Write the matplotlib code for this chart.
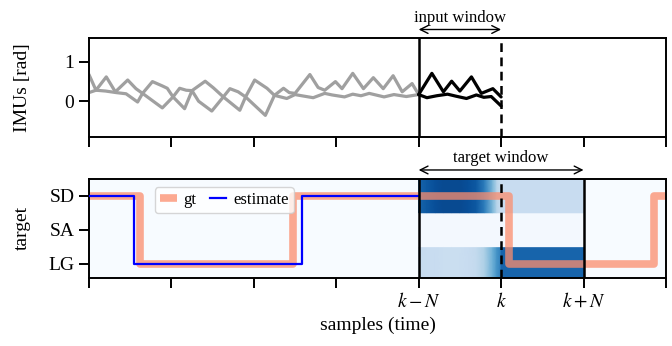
import numpy as np
import matplotlib
matplotlib.use("Agg")
from matplotlib import pyplot as plt

plt.rcParams["font.family"] = ["Liberation Serif", "DejaVu Serif"]
plt.rcParams["mathtext.fontset"] = "stix"
plt.rcParams["font.size"] = 14

# IMU signals (upper / lower trace)
imu_up_t = [0.0, 0.085, 0.21, 0.32, 0.47, 0.57, 0.65, 0.77, 0.89, 0.95, 1.02, 1.1, 1.18, 1.25,
            1.41, 1.51, 1.63, 1.71, 1.81, 1.9, 2.01, 2.16, 2.25, 2.36, 2.43, 2.5, 2.68, 2.78,
            2.86, 2.99, 3.07, 3.2, 3.33, 3.45, 3.57, 3.69, 3.8, 3.92, 4.0,
            4.16, 4.3, 4.4, 4.5, 4.64, 4.76, 4.9, 5.0]
imu_up = [0.68, 0.28, 0.62, 0.24, 0.54, 0.32, 0.2, 0.50, 0.39, 0.33, 0.11, 0.33, 0.28, 0.27,
          0.51, 0.34, 0.11, 0.32, 0.24, 0.11, 0.54, 0.33, 0.15, 0.33, 0.22, 0.2, 0.68, 0.35,
          0.28, 0.5, 0.32, 0.71, 0.32, 0.6, 0.32, 0.65, 0.24, 0.45, 0.17,
          0.71, 0.24, 0.51, 0.26, 0.62, 0.2, 0.32, 0.11]
imu_lo_t = [0.0, 0.085, 0.2, 0.33, 0.45, 0.59, 0.65, 0.89, 1.02, 1.16, 1.25, 1.33, 1.49, 1.63,
            1.83, 1.9, 2.14, 2.25, 2.4, 2.5, 2.58, 2.72, 2.86, 2.95, 3.1, 3.2, 3.3, 3.4, 3.58,
            3.7, 3.85, 4.0,
            4.1, 4.22, 4.35, 4.45, 4.58, 4.7, 4.79, 4.88, 5.0]
imu_lo = [0.22, 0.28, 0.26, 0.22, 0.19, -0.02, 0.2, -0.17, 0.11, -0.19, 0.27, 0.0, -0.25, 0.11,
          -0.23, 0.11, -0.36, 0.15, 0.07, 0.17, 0.14, 0.09, 0.2, 0.16, 0.11, 0.18, 0.14, 0.2, 0.11,
          0.17, 0.12, 0.17,
          0.09, 0.14, 0.18, 0.13, 0.07, 0.16, 0.1, 0.12, -0.12]

# classes
classes = ["LG", "SA", "SD"]

# ground truth and estimate (step signals)
gt_t = [0.0, 0.62, 2.47, 5.09, 6.85, 7.0]
gt_val = [2, 0, 2, 0, 2, 2]
est_t = [0.0, 0.55, 2.59, 4.0]
est_val = [2, 0, 2, 2]

# predicted class probabilities in target window
past_t = [4.0, 4.1, 4.2, 4.3, 4.4, 4.5, 4.6, 4.7, 4.8, 4.9, 4.95, 5.0]
past_lg = [0.25, 0.24, 0.24, 0.23, 0.23, 0.23, 0.24, 0.26, 0.33, 0.5, 0.62, 0.7]
past_sa = [0.02] * 12
past_sd = [0.8, 0.84, 0.88, 0.9, 0.9, 0.9, 0.88, 0.84, 0.7, 0.45, 0.3, 0.22]
fut_t = [5.0, 6.0]
fut_lg = [0.8, 0.8]
fut_sa = [0.02, 0.02]
fut_sd = [0.24, 0.24]

k = 4  # start of input window
n = 1

fig = plt.figure(figsize=(6.72, 3.46), dpi=100)
ax1 = fig.add_axes([0.1324, 0.603, 0.8586, 0.286])
ax2 = fig.add_axes([0.1324, 0.197, 0.8586, 0.286])

up_t, up_v = np.array(imu_up_t), np.array(imu_up)
lo_t, lo_v = np.array(imu_lo_t), np.array(imu_lo)
style = dict(lw=2.3, solid_joinstyle="round", solid_capstyle="round")
ax1.plot(up_t[up_t <= k], up_v[up_t <= k], color="#a0a0a0", **style)
ax1.plot(lo_t[lo_t <= k], lo_v[lo_t <= k], color="#a0a0a0", **style)
ax1.plot(up_t[up_t >= k], up_v[up_t >= k], color="black", **style)
ax1.plot(lo_t[lo_t >= k], lo_v[lo_t >= k], color="black", **style)
ax1.axvline(k, color="black", lw=1.8)
ax1.axvline(k + n, color="black", lw=1.8, ls=(0, (3.5, 2.2)))
ax1.set_ylim(-0.92, 1.6)
ax1.set_yticks([0, 1])
ax1.set_ylabel("IMUs [rad]")

# heatmap of probabilities
ax2.set_facecolor(plt.cm.Blues(0.0))
for t, rows in [(past_t, [past_lg, past_sa, past_sd]), (fut_t, [fut_lg, fut_sa, fut_sd])]:
    for i, p in enumerate(rows):
        X = np.array([t, t])
        Y = np.array([[i - 0.5] * len(t), [i + 0.5] * len(t)])
        C = np.array([p, p])
        ax2.pcolormesh(X, Y, C, cmap="Blues", vmin=0, vmax=1, shading="gouraud", zorder=1)

ax2.plot(gt_t, gt_val, drawstyle="steps-post", color="#fc8d6d", alpha=0.75, lw=5.5,
         solid_joinstyle="round", solid_capstyle="butt", label="gt", zorder=2)
ax2.plot(est_t, est_val, drawstyle="steps-post", color="blue", lw=1.6, label="estimate", zorder=3)
ax2.axvline(k, color="black", lw=1.8, zorder=4)
ax2.axvline(k + n, color="black", lw=1.8, ls=(0, (3.5, 2.2)), zorder=4)
ax2.axvline(k + 2 * n, color="black", lw=1.8, zorder=4)
ax2.set_ylim(-0.42, 2.5)
ax2.set_yticks([0, 1, 2])
ax2.set_yticklabels(classes)
ax2.set_ylabel("target")
ax2.legend(ncol=2, loc="upper left", bbox_to_anchor=(0.1, 1.0), fontsize=12,
           handlelength=1.0, columnspacing=0.8, handletextpad=0.4, borderpad=0.3)

for ax in (ax1, ax2):
    ax.set_xlim(0, 7)
    ax.set_xticks(np.arange(0, 8))
    ax.tick_params(direction="out", length=7, width=1.4)
    for s in ax.spines.values():
        s.set_linewidth(1.4)
ax1.set_xticklabels([])
ax2.set_xticklabels(["", "", "", "", r"$k-N$", r"$k$", r"$k+N$", ""])
ax2.set_xlabel("samples (time)")
ax1.yaxis.set_label_coords(-0.1, 0.5)
ax2.yaxis.set_label_coords(-0.1, 0.5)

# window annotations
ax1.annotate("", xy=(k, 1.09), xytext=(k + n, 1.09), xycoords=("data", "axes fraction"),
             arrowprops=dict(arrowstyle="<->", lw=1, shrinkA=0, shrinkB=0), annotation_clip=False)
ax1.text(k + n / 2, 1.21, "input window", transform=ax1.get_xaxis_transform(),
         ha="center", va="center", fontsize=12)
ax2.annotate("", xy=(k, 1.09), xytext=(k + 2 * n, 1.09), xycoords=("data", "axes fraction"),
             arrowprops=dict(arrowstyle="<->", lw=1, shrinkA=0, shrinkB=0), annotation_clip=False)
ax2.text(k + n, 1.21, "target window", transform=ax2.get_xaxis_transform(),
         ha="center", va="center", fontsize=12)

plt.savefig("out.png", dpi=100)
